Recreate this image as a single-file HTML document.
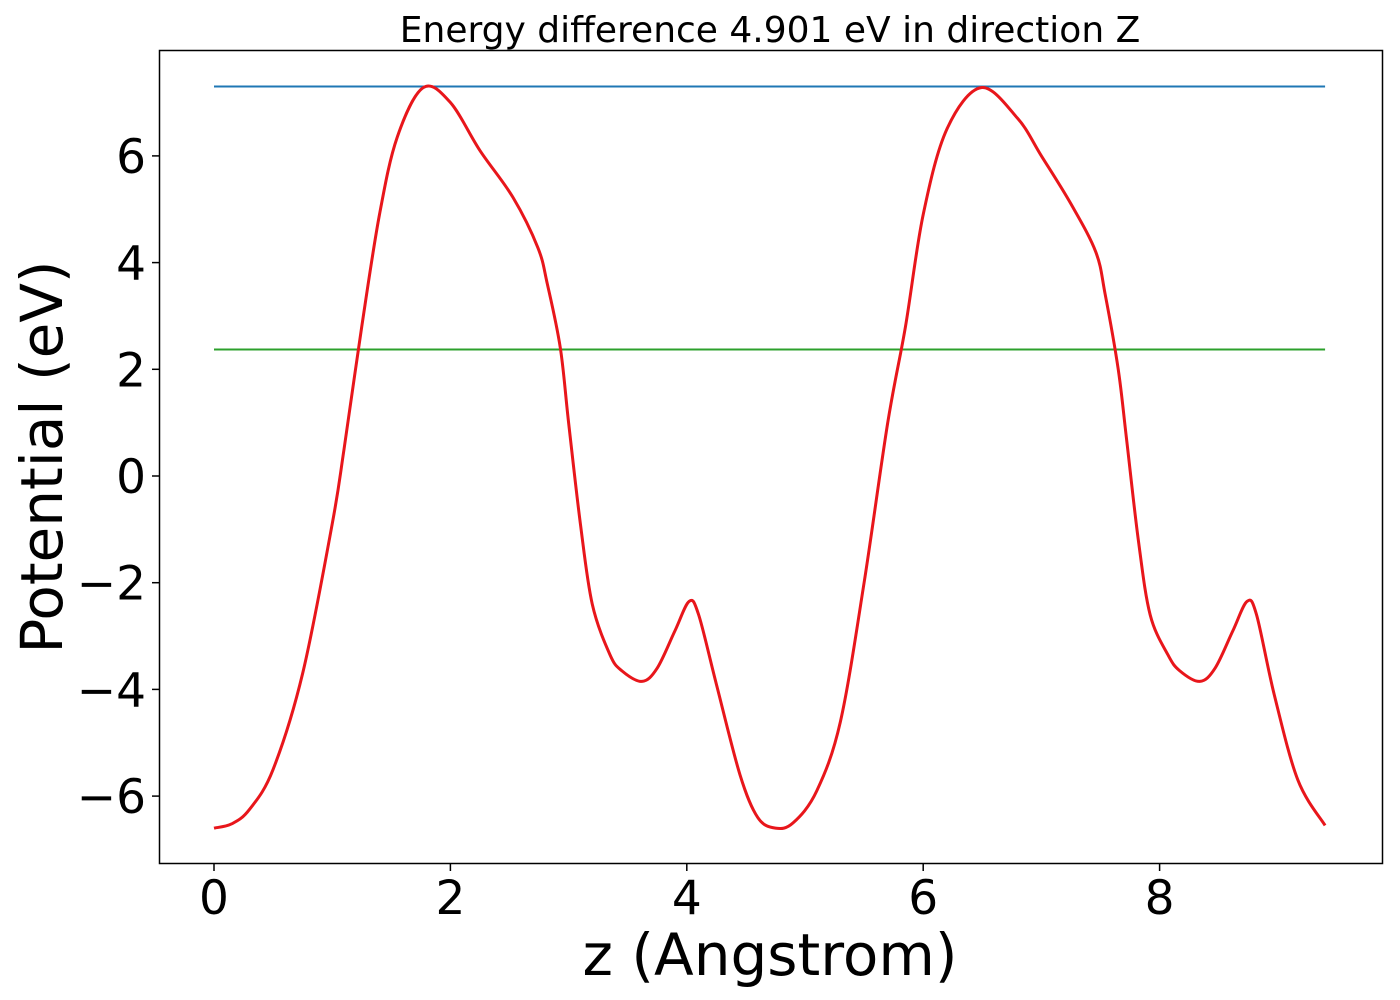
<!DOCTYPE html>
<html><head><meta charset="utf-8"><style>
body{margin:0;background:#fff;}
svg{display:block;font-family:"DejaVu Sans","Liberation Sans",sans-serif;}
</style></head><body>
<svg id="chart" width="1400" height="1000">
<text x="770" y="42" font-size="36" text-anchor="middle">Energy difference 4.901 eV in direction Z</text>
<g id="plot"></g>
<rect x="159.5" y="50.5" width="1223" height="813" fill="none" stroke="#000" stroke-width="1.5"/>
<text x="770" y="975" font-size="58" text-anchor="middle">z (Angstrom)</text>
<text transform="translate(62,457) rotate(-90)" font-size="58" text-anchor="middle">Potential (eV)</text>
</svg>
<script>
const zValues=[0,0.15,0.3,0.5,0.75,1.0,1.1,1.25,1.4,1.55,1.77,2.0,2.25,2.53,2.74,2.82,2.93,3.0,3.1,3.2,3.35,3.45,3.62,3.75,3.9,4.02,4.1,4.25,4.45,4.6,4.75,4.9,5.1,5.3,5.5,5.7,5.85,6.0,6.2,6.49,6.8,7.0,7.25,7.46,7.54,7.65,7.72,7.82,7.92,8.07,8.17,8.34,8.47,8.62,8.74,8.82,8.97,9.17,9.4];
const potential=[-6.6,-6.52,-6.25,-5.5,-3.7,-0.9,0.5,2.8,4.9,6.35,7.28,7.0,6.1,5.22,4.28,3.6,2.4,1.0,-0.9,-2.4,-3.35,-3.65,-3.85,-3.6,-2.9,-2.35,-2.6,-3.9,-5.6,-6.4,-6.6,-6.5,-5.9,-4.6,-2.0,1.0,2.8,4.9,6.5,7.28,6.7,6.0,5.1,4.2,3.4,2.0,0.7,-1.2,-2.6,-3.35,-3.65,-3.85,-3.6,-2.9,-2.35,-2.6,-4.1,-5.7,-6.55];
const hLineValues=[7.3,2.37];
const hLineColors=["#1f77b4","#2ca02c"];
const xTicks=[0,2,4,6,8];
const yTicks=[-6,-4,-2,0,2,4,6];
const xTickLabels=["0","2","4","6","8"];
const yTickLabels=["\u22126","\u22124","\u22122","0","2","4","6"];

const X=v=>214+v*118.2;
const Y=v=>476-v*53.35;
const ns="http://www.w3.org/2000/svg";
const g=document.getElementById('plot');
function mk(t,a){const e=document.createElementNS(ns,t);for(const k in a)e.setAttribute(k,a[k]);g.appendChild(e);return e;}
const xmin=zValues[0],xmax=zValues[zValues.length-1];
hLineValues.forEach((v,i)=>{
  const l=mk('line',{x1:X(xmin),x2:X(xmax),y1:Y(v),y2:Y(v),stroke:hLineColors[i],'stroke-width':2});
  
  
});
const P=zValues.map((z,i)=>[X(z),Y(potential[i])]);
let d='M'+P[0][0]+','+P[0][1];
for(let i=0;i<P.length-1;i++){
  const p0=P[Math.max(0,i-1)],p1=P[i],p2=P[i+1],p3=P[Math.min(P.length-1,i+2)];
  const c1=[p1[0]+(p2[0]-p0[0])/6,p1[1]+(p2[1]-p0[1])/6];
  const c2=[p2[0]-(p3[0]-p1[0])/6,p2[1]-(p3[1]-p1[1])/6];
  d+=` C${c1[0]},${c1[1]} ${c2[0]},${c2[1]} ${p2[0]},${p2[1]}`;
}
const curve=mk('path',{d:d,fill:'none',stroke:'#e8161b','stroke-width':3,'stroke-linejoin':'round'});


xTicks.forEach((v,i)=>{
  const t=mk('line',{x1:X(v),x2:X(v),y1:864,y2:871,stroke:'#000','stroke-width':1.5});
  
  
  const l=mk('text',{x:X(v),y:914,'font-size':47,'text-anchor':'middle'});
  l.textContent=xTickLabels[i];
  
  
});
yTicks.forEach((v,i)=>{
  const t=mk('line',{x1:152,x2:159,y1:Y(v),y2:Y(v),stroke:'#000','stroke-width':1.5});
  
  
  const l=mk('text',{x:146,y:Y(v)+17,'font-size':47,'text-anchor':'end'});
  l.textContent=yTickLabels[i];
  
  
});
</script>
</body></html>
